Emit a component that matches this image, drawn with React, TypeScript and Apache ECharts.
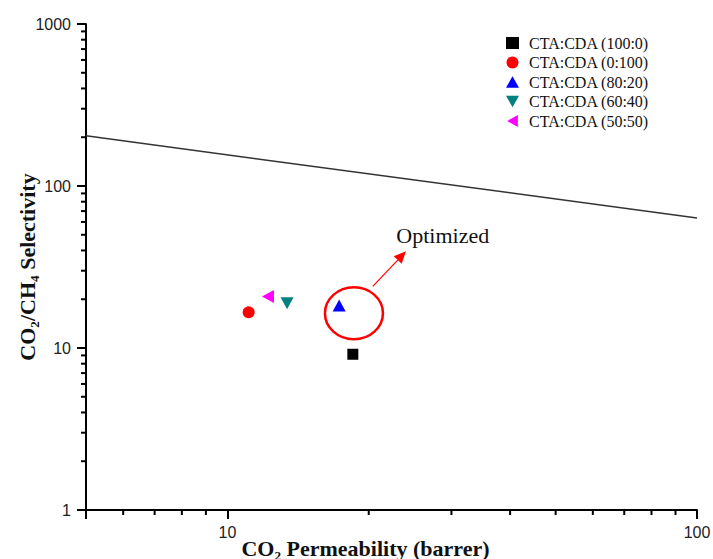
import React, { useEffect, useRef } from "react";
import * as echarts from "echarts";

// ---- data ----
const seriesNames = [
  "CTA:CDA (100:0)",
  "CTA:CDA (0:100)",
  "CTA:CDA (80:20)",
  "CTA:CDA (60:40)",
  "CTA:CDA (50:50)",
];
const permeability = [18.5, 11.1, 17.3, 13.4, 12.2];
const selectivity = [9.15, 16.6, 18.3, 18.9, 20.8];
const seriesColors = ["#000000", "#ff0000", "#0000ff", "#008080", "#ff00ff"];
const seriesSymbols = [
  "rect",
  "circle",
  "path://M5,0 L10,9 L0,9 Z",
  "path://M0,0 L10,0 L5,9 Z",
  "path://M9,0 L9,10 L0,5 Z",
];
const seriesSizes: any[] = [11, 12, [13, 12], [13, 12], [12, 13]];

const boundX = [5, 100];
const boundY = [204, 63.5];

const xRange = [5, 100];
const yRange = [1, 1000];
const xMajorLabels = [10, 100];
const yMajorLabels = [1, 10, 100, 1000];
const xMinorTicks = [6, 7, 8, 9, 20, 30, 40, 50, 60, 70, 80, 90];
const yMinorTicks = [2, 3, 4, 5, 6, 7, 8, 9, 20, 30, 40, 50, 60, 70, 80, 90, 200, 300, 400, 500, 600, 700, 800, 900];

// annotation anchors (data coordinates)
const ellipseCenter = [18.6, 16.4];
const arrowStart = [20.4, 24.0];
const arrowEnd = [24.0, 39.5];
const annotationTextPos = [22.9, 42.5];
const annotationText = "Optimized";

export default function App() {
  const ref = useRef<HTMLDivElement>(null);

  useEffect(() => {
    document.body.style.margin = "0";
    const chart = echarts.init(ref.current!, null, { renderer: "svg" });

    const scatterSeries = seriesNames.map((name, i) => ({
      name,
      type: "scatter",
      data: [[permeability[i], selectivity[i]]],
      symbol: seriesSymbols[i],
      symbolSize: seriesSizes[i],
      itemStyle: { color: seriesColors[i], opacity: 1 },
      z: 5,
    }));

    const labelFmt = (list: number[]) => (v: number) => {
      const r = Math.round(v);
      return list.includes(r) && Math.abs(v - r) < 1e-6 * Math.max(1, r) ? String(r) : "";
    };

    const option: any = {
      animation: false,
      backgroundColor: "#ffffff",
      grid: { left: 86, right: 16, top: 24, bottom: 49, containLabel: false, outerBoundsMode: "none" },
      legend: {
        data: seriesNames,
        orient: "vertical",
        left: 501,
        top: 30,
        itemWidth: 13,
        itemHeight: 12,
        itemGap: 3.5,
        textStyle: {
          fontFamily: "Liberation Serif",
          fontSize: 16,
          color: "#111",
          padding: [0, 0, 0, 5],
        },
      },
      xAxis: {
        type: "log",
        logBase: 10,
        min: xRange[0],
        max: xRange[1],
        name: "CO₂ Permeability (barrer)",
        nameLocation: "middle",
        nameGap: 27,
        nameMoveOverlap: false,
        nameTextStyle: {
          fontFamily: "Liberation Serif",
          fontWeight: "bold",
          fontSize: 22,
          color: "#111",
          padding: [0, 52, 0, 0],
        },
        axisLine: { show: true, onZero: false, lineStyle: { color: "#000", width: 2 } },
        axisTick: { show: true, length: 9, lineStyle: { color: "#000", width: 2 } },
        axisLabel: {
          formatter: labelFmt(xMajorLabels),
          fontFamily: "Liberation Sans",
          fontSize: 16,
          color: "#222",
          margin: 14,
        },
        splitLine: { show: false },
      },
      yAxis: {
        type: "log",
        logBase: 10,
        min: yRange[0],
        max: yRange[1],
        name: "CO₂/CH₄ Selectivity",
        nameLocation: "middle",
        nameGap: 48,
        nameRotate: 90,
        nameMoveOverlap: false,
        nameTextStyle: {
          fontFamily: "Liberation Serif",
          fontWeight: "bold",
          fontSize: 22,
          color: "#111",
        },
        axisLine: { show: true, onZero: false, lineStyle: { color: "#000", width: 2 } },
        axisTick: { show: true, length: 9, lineStyle: { color: "#000", width: 2 } },
        axisLabel: {
          formatter: labelFmt(yMajorLabels),
          fontFamily: "Liberation Sans",
          fontSize: 16,
          color: "#222",
          margin: 15,
        },
        splitLine: { show: false },
      },
      series: [
        {
          name: "bound",
          type: "line",
          data: boundX.map((x, i) => [x, boundY[i]]),
          showSymbol: false,
          symbol: "none",
          lineStyle: { color: "#333", width: 1.5 },
          silent: true,
          z: 2,
        },
        ...scatterSeries,
        {
          name: "xMinor",
          type: "custom",
          silent: true,
          data: xMinorTicks.map((v) => [v, yRange[0]]),
          renderItem: (params: any, api: any) => {
            const p = api.coord([api.value(0), api.value(1)]);
            return {
              type: "line",
              shape: { x1: p[0], y1: p[1], x2: p[0], y2: p[1] + 5 },
              style: { stroke: "#000", lineWidth: 2 },
            };
          },
        },
        {
          name: "yMinor",
          type: "custom",
          silent: true,
          data: yMinorTicks.map((v) => [xRange[0], v]),
          renderItem: (params: any, api: any) => {
            const p = api.coord([api.value(0), api.value(1)]);
            return {
              type: "line",
              shape: { x1: p[0], y1: p[1], x2: p[0] - 5, y2: p[1] },
              style: { stroke: "#000", lineWidth: 2 },
            };
          },
        },
        {
          name: "annotation",
          type: "custom",
          silent: true,
          data: [[ellipseCenter[0], ellipseCenter[1]]],
          renderItem: (params: any, api: any) => {
            const c = api.coord(ellipseCenter);
            const a = api.coord(arrowStart);
            const b = api.coord(arrowEnd);
            const t = api.coord(annotationTextPos);
            const dx = b[0] - a[0];
            const dy = b[1] - a[1];
            const len = Math.sqrt(dx * dx + dy * dy);
            const ux = dx / len;
            const uy = dy / len;
            const hl = 12;
            const hw = 5.5;
            const bx = b[0] - ux * hl;
            const by = b[1] - uy * hl;
            return {
              type: "group",
              children: [
                {
                  type: "ellipse",
                  shape: { cx: c[0], cy: c[1], rx: 29, ry: 26 },
                  style: { stroke: "#ff0000", lineWidth: 2.5, fill: "none" },
                },
                {
                  type: "line",
                  shape: { x1: a[0], y1: a[1], x2: bx, y2: by },
                  style: { stroke: "#ff0000", lineWidth: 1.2 },
                },
                {
                  type: "polygon",
                  shape: {
                    points: [
                      [b[0], b[1]],
                      [bx - uy * hw, by + ux * hw],
                      [bx + uy * hw, by - ux * hw],
                    ],
                  },
                  style: { fill: "#ff0000" },
                },
                {
                  type: "text",
                  x: t[0],
                  y: t[1],
                  style: {
                    text: annotationText,
                    fontFamily: "Liberation Serif",
                    fontSize: 22,
                    fill: "#111",
                    textAlign: "left",
                    textVerticalAlign: "bottom",
                  },
                },
              ],
            };
          },
        },
      ],
    };

    chart.setOption(option);
    return () => chart.dispose();
  }, []);

  return <div ref={ref} style={{ width: 713, height: 559 }} />;
}
